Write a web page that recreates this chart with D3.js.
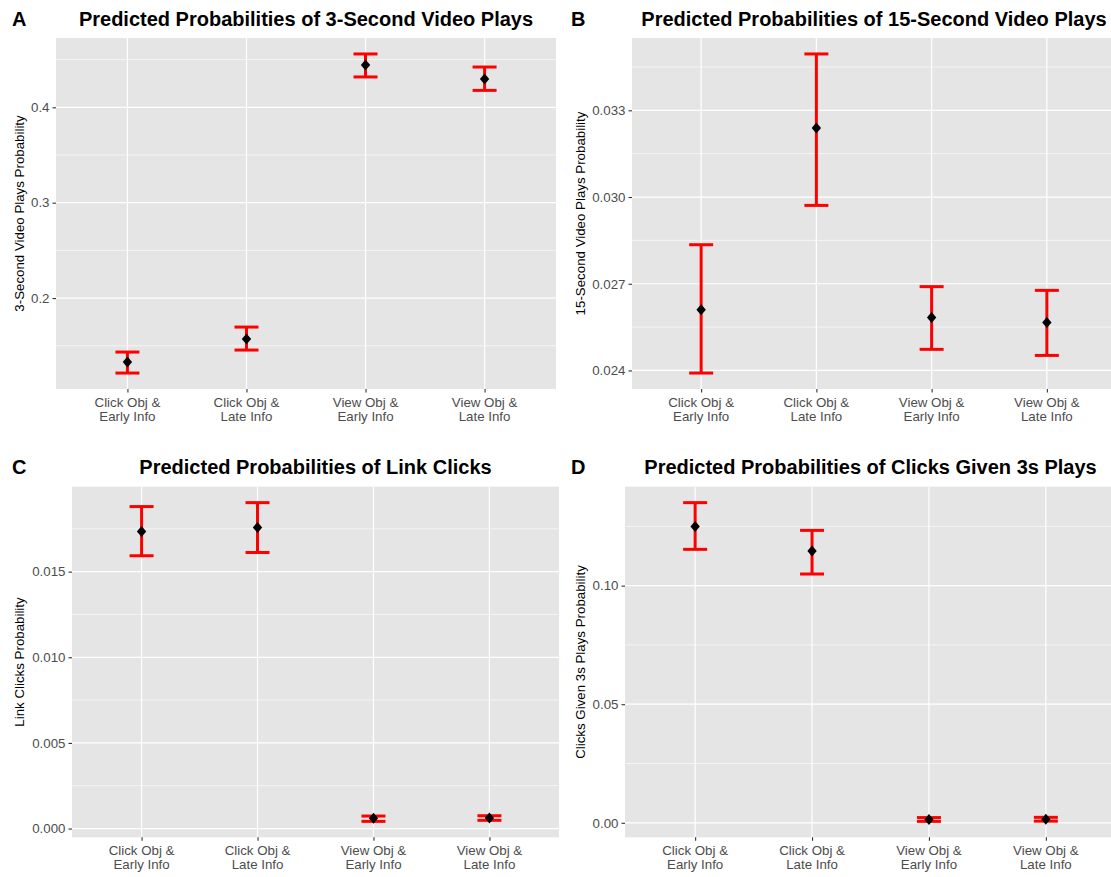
<!DOCTYPE html>
<html>
<head>
<meta charset="utf-8">
<script src="https://cdn.jsdelivr.net/npm/d3@7"></script>
<style>
  html, body { margin: 0; padding: 0; background: #ffffff; }
  svg { display: block; font-family: "Liberation Sans", Arial, Helvetica, sans-serif; }
</style>
</head>
<body>
<svg id="chart" width="1111" height="877"></svg>
<script>
// Conditions shown on every panel's x axis (two-line labels)
const categories = ["Click Obj & Early Info", "Click Obj & Late Info", "View Obj & Early Info", "View Obj & Late Info"];
const categoryLines = [["Click Obj &", "Early Info"], ["Click Obj &", "Late Info"], ["View Obj &", "Early Info"], ["View Obj &", "Late Info"]];

// A: 3-second video plays
const threeSecFit  = [0.1330, 0.1570, 0.4443, 0.4297];
const threeSecLow  = [0.1214, 0.1455, 0.4318, 0.4177];
const threeSecHigh = [0.1434, 0.1696, 0.4559, 0.4422];
const threeSecTicks = [0.2, 0.3, 0.4];

// B: 15-second video plays
const fifteenSecFit  = [0.02610, 0.03239, 0.02583, 0.02566];
const fifteenSecLow  = [0.02391, 0.02971, 0.02473, 0.02452];
const fifteenSecHigh = [0.02835, 0.03495, 0.02690, 0.02677];
const fifteenSecTicks = [0.024, 0.027, 0.030, 0.033];

// C: link clicks
const linkFit  = [0.01734, 0.01758, 0.00060, 0.00062];
const linkLow  = [0.01593, 0.01612, 0.00042, 0.00048];
const linkHigh = [0.01880, 0.01903, 0.00073, 0.00075];
const linkTicks = [0.000, 0.005, 0.010, 0.015];

// D: clicks given 3s plays
const clickGivenFit  = [0.1249, 0.1146, 0.0014, 0.0015];
const clickGivenLow  = [0.1153, 0.1049, 0.0006, 0.0007];
const clickGivenHigh = [0.1350, 0.1233, 0.0022, 0.0023];
const clickGivenTicks = [0.00, 0.05, 0.10];

const panelTags = ["A", "B", "C", "D"];
const panelTitles = [
  "Predicted Probabilities of 3-Second Video Plays",
  "Predicted Probabilities of 15-Second Video Plays",
  "Predicted Probabilities of Link Clicks",
  "Predicted Probabilities of Clicks Given 3s Plays"
];
const axisTitles = [
  "3-Second Video Plays Probability",
  "15-Second Video Plays Probability",
  "Link Clicks Probability",
  "Clicks Given 3s Plays Probability"
];

const panels = [
  { fit: threeSecFit,    low: threeSecLow,    high: threeSecHigh,    ticks: threeSecTicks,    fmt: d3.format(".1f") },
  { fit: fifteenSecFit,  low: fifteenSecLow,  high: fifteenSecHigh,  ticks: fifteenSecTicks,  fmt: d3.format(".3f") },
  { fit: linkFit,        low: linkLow,        high: linkHigh,        ticks: linkTicks,        fmt: d3.format(".3f") },
  { fit: clickGivenFit,  low: clickGivenLow,  high: clickGivenHigh,  ticks: clickGivenTicks,  fmt: d3.format(".2f") }
];

// Layout of the 2x2 grid (panel rectangles, title anchors)
const layout = [
  { left: 56,  right: 556,  top: 38,    bottom: 389,   tagX: 12,  titleY: 26,  yTitleX: 19 },
  { left: 632, right: 1116, top: 38,    bottom: 389,   tagX: 571, titleY: 26,  yTitleX: 580 },
  { left: 72,  right: 559,  top: 486.7, bottom: 837.3, tagX: 12,  titleY: 474, yTitleX: 19 },
  { left: 625, right: 1116, top: 486.7, bottom: 837.3, tagX: 571, titleY: 474, yTitleX: 580 }
];

const svg = d3.select("#chart");
const bg = "#E5E5E5";
const grey = "#4D4D4D";
const smallFont = 13.3;
const titleFont = 20;

panels.forEach((p, i) => {
  const L = layout[i];
  const g = svg.append("g");

  // y domain: data range expanded by 5% on each side
  const lo = d3.min(p.low), hi = d3.max(p.high);
  const pad = (hi - lo) * 0.05;
  const y = d3.scaleLinear().domain([lo - pad, hi + pad]).range([L.bottom, L.top]);

  // discrete x with 0.6 unit expansion on each side
  const x = d3.scalePoint().domain(categories).range([L.left, L.right]).padding(0.6);

  // panel background
  g.append("rect")
    .attr("x", L.left).attr("y", L.top)
    .attr("width", L.right - L.left).attr("height", L.bottom - L.top)
    .attr("fill", bg);

  // minor gridlines at the midpoints between major ticks
  const step = p.ticks[1] - p.ticks[0];
  const minor = [];
  for (let k = -1; k <= p.ticks.length; k++) {
    const v = p.ticks[0] + (k + 0.5) * step;
    if (v >= y.domain()[0] && v <= y.domain()[1]) minor.push(v);
  }
  g.selectAll("line.minor").data(minor).join("line")
    .attr("x1", L.left).attr("x2", L.right)
    .attr("y1", d => y(d)).attr("y2", d => y(d))
    .attr("stroke", "#ffffff").attr("stroke-width", 0.6);

  // major gridlines
  g.selectAll("line.major").data(p.ticks).join("line")
    .attr("x1", L.left).attr("x2", L.right)
    .attr("y1", d => y(d)).attr("y2", d => y(d))
    .attr("stroke", "#ffffff").attr("stroke-width", 1.2);
  g.selectAll("line.vmajor").data(categories).join("line")
    .attr("x1", d => x(d)).attr("x2", d => x(d))
    .attr("y1", L.top).attr("y2", L.bottom)
    .attr("stroke", "#ffffff").attr("stroke-width", 1.2);

  // y axis
  const yAxis = g.append("g")
    .attr("transform", `translate(${L.left},0)`)
    .call(d3.axisLeft(y).tickValues(p.ticks).tickFormat(p.fmt).tickSize(3.5).tickPadding(3));
  yAxis.select(".domain").remove();
  yAxis.selectAll(".tick line").attr("stroke", "#333333").attr("stroke-width", 1.1);
  yAxis.selectAll(".tick text")
    .attr("fill", grey).attr("font-size", smallFont)
    .attr("font-family", "Liberation Sans, Arial, sans-serif");

  // x axis
  const xAxis = g.append("g")
    .attr("transform", `translate(0,${L.bottom})`)
    .call(d3.axisBottom(x).tickSize(3.5).tickFormat(""));
  xAxis.select(".domain").remove();
  xAxis.selectAll(".tick line").attr("stroke", "#333333").attr("stroke-width", 1.1);

  categories.forEach((c, j) => {
    const t = g.append("text")
      .attr("x", x(c)).attr("y", L.bottom + 17.5)
      .attr("text-anchor", "middle")
      .attr("fill", grey).attr("font-size", smallFont);
    categoryLines[j].forEach((line, k) => {
      t.append("tspan").attr("x", x(c)).attr("dy", k === 0 ? 0 : 14.5).text(line);
    });
  });

  // y axis title
  g.append("text")
    .attr("transform", `translate(${L.yTitleX},${(L.top + L.bottom) / 2}) rotate(-90)`)
    .attr("text-anchor", "middle").attr("dy", "0.35em")
    .attr("fill", "#000000").attr("font-size", smallFont)
    .text(axisTitles[i]);

  // panel title (centred over the panel) and tag
  g.append("text")
    .attr("x", (L.left + L.right) / 2).attr("y", L.titleY)
    .attr("text-anchor", "middle").attr("font-weight", "bold")
    .attr("font-size", titleFont).attr("fill", "#000000")
    .text(panelTitles[i]);
  g.append("text")
    .attr("x", L.tagX).attr("y", L.titleY)
    .attr("font-weight", "bold").attr("font-size", titleFont).attr("fill", "#000000")
    .text(panelTags[i]);

  // error bars
  const rows = categories.map((c, j) => ({ c, fit: p.fit[j], low: p.low[j], high: p.high[j] }));
  const capHalf = 12;
  const eb = g.append("g").attr("stroke", "#FF0000").attr("stroke-width", 3);
  eb.selectAll("line.stem").data(rows).join("line")
    .attr("x1", d => x(d.c)).attr("x2", d => x(d.c))
    .attr("y1", d => y(d.low)).attr("y2", d => y(d.high));
  eb.selectAll("line.capHi").data(rows).join("line")
    .attr("x1", d => x(d.c) - capHalf).attr("x2", d => x(d.c) + capHalf)
    .attr("y1", d => y(d.high)).attr("y2", d => y(d.high));
  eb.selectAll("line.capLo").data(rows).join("line")
    .attr("x1", d => x(d.c) - capHalf).attr("x2", d => x(d.c) + capHalf)
    .attr("y1", d => y(d.low)).attr("y2", d => y(d.low));

  // point estimates as filled diamonds
  const r = 5.5;
  g.selectAll("path.pt").data(rows).join("path")
    .attr("d", `M0,${-r}L${r * 0.85},0L0,${r}L${-r * 0.85},0Z`)
    .attr("transform", d => `translate(${x(d.c)},${y(d.fit)})`)
    .attr("fill", "#000000");
});
</script>
</body>
</html>
